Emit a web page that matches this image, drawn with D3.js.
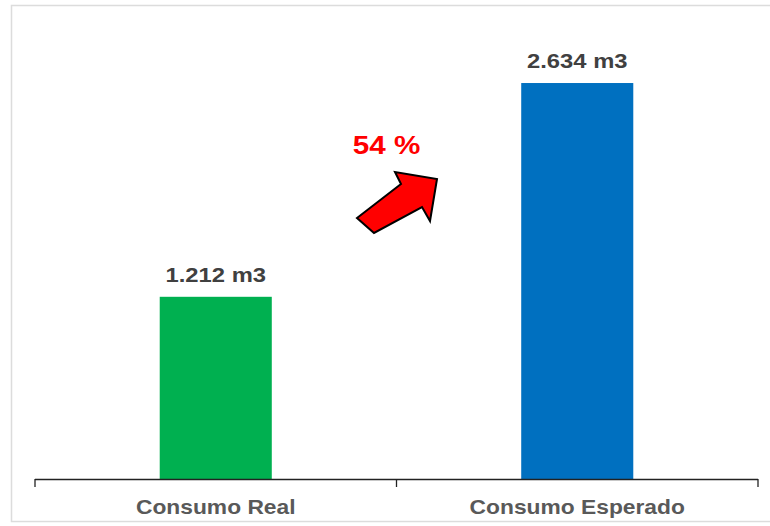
<!DOCTYPE html>
<html>
<head>
<meta charset="utf-8">
<script src="https://cdn.jsdelivr.net/npm/d3@7/dist/d3.min.js"></script>
<style>
  html, body { margin: 0; padding: 0; background: #fff; }
  svg { display: block; font-family: "Liberation Sans", Arial, sans-serif; }
</style>
</head>
<body>
<svg id="chart" width="770" height="526"></svg>
<script>
// Water consumption: actual vs expected
const categories = ["Consumo Real", "Consumo Esperado"];
const values = [1212, 2634];
const valueLabels = ["1.212 m3", "2.634 m3"];
const barColors = ["#00B050", "#0070C0"];
const changeLabel = "54 %";

const svg = d3.select("#chart");
const margin = { left: 35, right: 12, bottom: 47, top: 28 };
const W = 770, H = 526;
const axisY = H - margin.bottom;

// frame around the chart area
svg.append("rect")
  .attr("x", 11.5).attr("y", 5.5)
  .attr("width", 770).attr("height", 516)
  .attr("fill", "#fff").attr("stroke", "#dcdcdc").attr("stroke-width", 1.5);

const x = d3.scaleBand().domain(categories).range([margin.left, W - margin.right]).padding(0);
const y = d3.scaleLinear().domain([0, 3000]).range([axisY, margin.top]);

const barW = x.bandwidth() * 0.31;

// horizontally widened text, anchored at its centre
function wideText(sel, cx, cy, sx) {
  return sel.append("g")
    .attr("transform", `translate(${cx},${cy}) scale(${sx},1)`)
    .append("text")
    .attr("text-anchor", "middle");
}

svg.selectAll("rect.bar")
  .data(values)
  .join("rect")
  .attr("class", "bar")
  .attr("x", (d, i) => x(categories[i]) + x.bandwidth() / 2 - barW / 2)
  .attr("y", d => y(d))
  .attr("width", barW)
  .attr("height", d => y(0) - y(d))
  .attr("fill", (d, i) => barColors[i]);

// value labels
values.forEach((v, i) => {
  wideText(svg, x(categories[i]) + x.bandwidth() / 2, y(v) - 15, 1.22)
    .attr("font-size", 19.5)
    .attr("font-weight", "bold")
    .attr("fill", "#404040")
    .text(valueLabels[i]);
});

// category axis with tick marks between categories
const axisG = svg.append("g");
axisG.append("line")
  .attr("x1", x.range()[0]).attr("x2", x.range()[1])
  .attr("y1", axisY + 0.5).attr("y2", axisY + 0.5)
  .attr("stroke", "#222").attr("stroke-width", 1.3);
const boundaries = [x.range()[0], ...categories.slice(1).map(c => x(c)), x.range()[1]];
axisG.selectAll("line.tick")
  .data(boundaries)
  .join("line")
  .attr("class", "tick")
  .attr("x1", d => d).attr("x2", d => d)
  .attr("y1", axisY).attr("y2", axisY + 8)
  .attr("stroke", "#222").attr("stroke-width", 1.3);
categories.forEach(c => {
  wideText(axisG, x(c) + x.bandwidth() / 2, axisY + 35, 1.14)
    .attr("font-size", 20)
    .attr("font-weight", "bold")
    .attr("fill", "#595959")
    .text(c);
});

// percentage change annotation
wideText(svg, 386.5, 154, 1.14)
  .attr("font-size", 26)
  .attr("font-weight", "bold")
  .attr("fill", "#FF0000")
  .text(changeLabel);

svg.append("polygon")
  .attr("points", [
    [357, 218], [401, 184], [395, 172], [437, 179], [430, 221], [422, 207], [374, 233]
  ].map(p => p.join(",")).join(" "))
  .attr("fill", "#FF0000")
  .attr("stroke", "#000")
  .attr("stroke-width", 2)
  .attr("stroke-linejoin", "miter");
</script>
</body>
</html>
